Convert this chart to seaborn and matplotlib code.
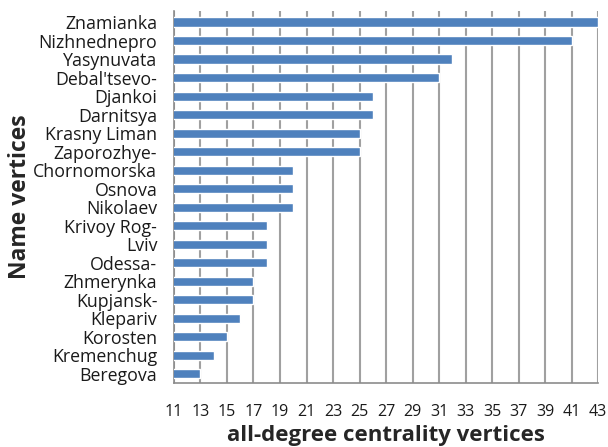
import numpy as np
import pandas as pd
import matplotlib
matplotlib.use('Agg')
import matplotlib.pyplot as plt
import seaborn as sns

# values
names = ['Znamianka', 'Nizhnednepro', 'Yasynuvata', "Debal'tsevo-", 'Djankoi',
         'Darnitsya', 'Krasny Liman', 'Zaporozhye-', 'Chornomorska', 'Osnova',
         'Nikolaev', 'Krivoy Rog-', 'Lviv', 'Odessa-', 'Zhmerynka',
         'Kupjansk-', 'Klepariv', 'Korosten', 'Kremenchug', 'Beregova']
degree = [43, 41, 32, 31, 26, 26, 25, 25, 20, 20,
          20, 18, 18, 18, 17, 17, 16, 15, 14, 13]
xticks = list(range(11, 44, 2))

df = pd.DataFrame({'name': names, 'degree': degree})

sns.set_style('white')
plt.rcParams['font.family'] = ['Open Sans', 'DejaVu Sans']

fig = plt.figure(figsize=(6.08, 4.47), dpi=100)
ax = fig.add_axes([174 / 608, 1 - 383 / 447, 424 / 608, 372 / 447])

sns.barplot(data=df, x='degree', y='name', orient='h', color='#4F81BD',
            saturation=1, width=0.5, ax=ax, zorder=3)

ax.set_xlim(11, 43)
ax.set_ylim(len(names) - 0.5, -0.6)
ax.set_xticks(xticks)
ax.set_xticklabels([str(t) for t in xticks], fontsize=11.5)
ax.xaxis.grid(True, color='#A0A0A0', linewidth=1.5, zorder=0)
ax.set_axisbelow(True)

ax.tick_params(axis='x', direction='inout', length=8, width=1.2, color='#8C8C8C',
               pad=11, labelcolor='#1a1a1a')
ax.tick_params(axis='y', which='major', length=0, labelsize=12.8, pad=12,
               labelcolor='#1a1a1a')
ax.set_yticks(np.arange(-0.5, len(names), 1), minor=True)
ax.tick_params(axis='y', which='minor', direction='out', length=5, width=1.2,
               color='#8C8C8C')

for s in ['top', 'right']:
    ax.spines[s].set_visible(False)
for s in ['left', 'bottom']:
    ax.spines[s].set_color('#8C8C8C')
    ax.spines[s].set_linewidth(1.2)

ax.set_xlabel('all-degree centrality vertices', fontsize=16, fontweight='bold',
              labelpad=4)
ax.set_ylabel('Name vertices', fontsize=16.5, fontweight='bold', labelpad=1)

fig.savefig('out.png', dpi=100)
